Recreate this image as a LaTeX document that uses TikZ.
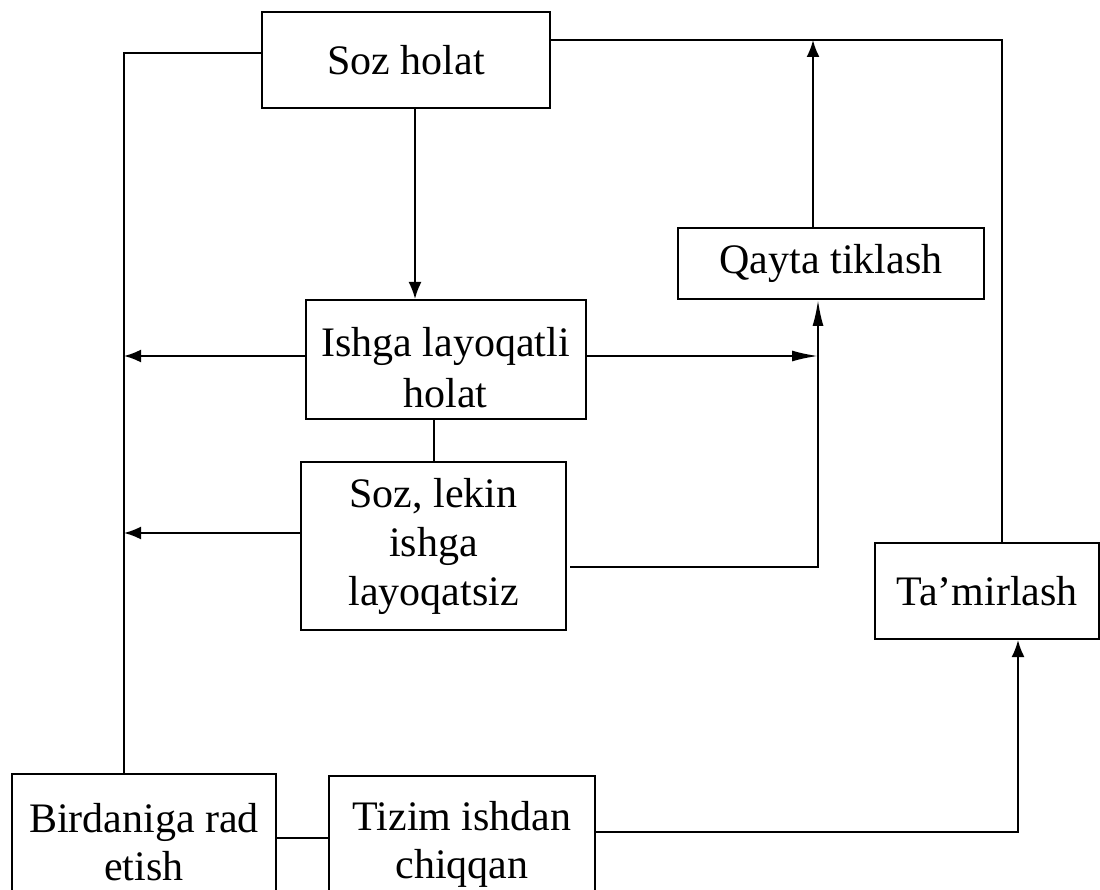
\documentclass[tikz,border=0pt]{standalone}
\usepackage{fontspec}
\setmainfont{Liberation Serif}
\usetikzlibrary{arrows.meta}

\tikzset{
  box/.style={draw,line width=2pt,align=center,inner sep=0pt,
    font=\fontsize{42}{48}\selectfont},
  arr/.style={-{Latex[length=17pt,width=13pt]}},
  arrlong/.style={-{Latex[length=26pt,width=11pt]}},
}

\begin{document}
\begin{tikzpicture}[x=1pt,y=-1pt,line width=2pt]

\useasboundingbox (0,0) rectangle (1100,890);
\clip (0,0) rectangle (1100,890);

\node [box,minimum width=288pt,minimum height=96pt] (soz) at (406,60) {Soz holat};
\node [box,minimum width=306pt,minimum height=71pt] (qayta) at (831,263.5) {Qayta tiklash};
\node [box,minimum width=280pt,minimum height=119pt] (ishga) at (445.5,359.5)
    {\rule{0pt}{46pt}Ishga layoqatli\\[3pt]holat};
\node [box,minimum width=265pt,minimum height=168pt] (sozlekin) at (433.5,546)
    {Soz, lekin\\[1pt]ishga\\[1pt]layoqatsiz};
\node [box,minimum width=224pt,minimum height=96pt] (tamir) at (987,591) {Ta’mirlash};
\node [box,minimum width=264pt,minimum height=136pt] (birdan) at (144,842) {Birdaniga rad\\etish};
\node [box,minimum width=266pt,minimum height=136pt] (tizim) at (462,844) {Tizim ishdan\\chiqqan};

\coordinate (lft) at (124,53);
\coordinate (ia) at (124,356);
\coordinate (la) at (124,533);
\coordinate (rt) at (1002,40);
\coordinate (up) at (813,40);
\coordinate (mid) at (818,567);
\coordinate (rb) at (1018,832);
\coordinate (bt) at (0,838);

\path [draw]
    (soz.west |- lft) -- (lft) -- (lft |- birdan.north)
    (soz.east |- rt) -- (rt) -- (rt |- tamir.north)
    (ishga.south -| sozlekin.north) -- (sozlekin.north)
    (birdan.east |- bt) -- (tizim.west |- bt)
;

\draw [arr] (soz.south -| 415,0) -- (ishga.north -| 415,0);
\draw [arr] (qayta.north -| up) -- (up);
\draw [arr] (ishga.west |- ia) -- (ia);
\draw [arrlong] (ishga.east |- ia) -- (ia -| mid);
\draw [arr] (sozlekin.west |- la) -- (la);
\draw [arrlong] ([xshift=3pt]sozlekin.east |- mid) -- (mid) -- (mid |- qayta.south);
\draw [arr] (tizim.east |- rb) -- (rb) -- (rb |- tamir.south);

\end{tikzpicture}
\end{document}
